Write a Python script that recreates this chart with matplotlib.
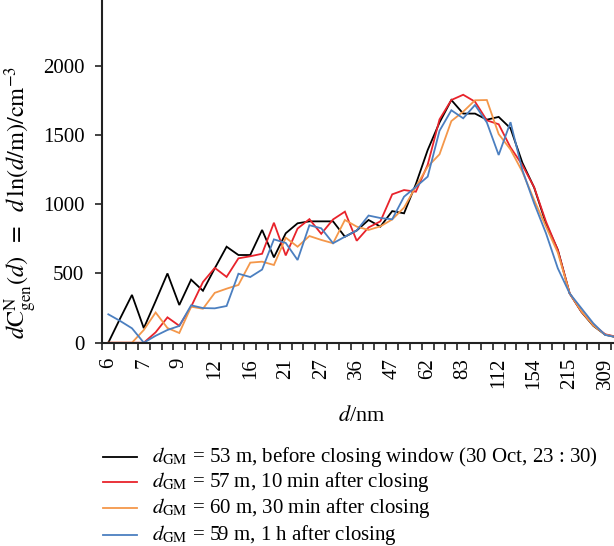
import numpy as np
import matplotlib
matplotlib.use("Agg")
import matplotlib.pyplot as plt
from matplotlib.lines import Line2D

plt.rcParams['font.family'] = ['Liberation Serif', 'DejaVu Serif']
plt.rcParams['mathtext.fontset'] = 'stix'

# size bins (every third bin labelled)
size_labels = ["6", "7", "9", "12", "16", "21", "27", "36", "47", "62", "83", "112", "154", "215", "309"]

black = [0, 175, 345, 105, 300, 500, 272, 455, 375, 537, 693, 633, 633, 814, 616, 790, 862, 876, 876, 876,
         765, 810, 886, 838, 950, 934, 1145, 1391, 1590, 1752, 1654, 1654, 1610, 1630, 1548, 1300, 1120, 860,
         670, 356, 222, 122, 58, 38]
red = [0, 0, 0, 0, 75, 183, 122, 260, 438, 540, 475, 609, 624, 642, 866, 630, 824, 892, 786, 890,
       946, 736, 832, 876, 1071, 1102, 1090, 1285, 1612, 1752, 1790, 1740, 1605, 1577, 1410, 1283, 1122, 874,
       669, 356, 224, 128, 61, 42]
orange = [0, 0, 0, 92, 218, 106, 70, 260, 245, 360, 390, 417, 578, 585, 561, 758, 693, 770, 742, 718,
          886, 838, 814, 840, 890, 975, 1126, 1271, 1360, 1600, 1668, 1750, 1752, 1506, 1395, 1235, 1030, 838,
          650, 356, 226, 125, 58, 40]
blue = [205, 157, 104, 0, 50, 92, 121, 270, 250, 248, 265, 498, 474, 528, 746, 720, 597, 848, 826, 718,
        765, 810, 918, 900, 891, 1054, 1125, 1199, 1530, 1678, 1620, 1716, 1590, 1355, 1592, 1247, 1006, 790,
        537, 356, 248, 140, 56, 39]

labels = [
    r"$d_{\mathrm{GM}}$ = 53 m, before closing window (30 Oct, 23 : 30)",
    r"$d_{\mathrm{GM}}$ = 57 m, 10 min after closing",
    r"$d_{\mathrm{GM}}$ = 60 m, 30 min after closing",
    r"$d_{\mathrm{GM}}$ = 59 m, 1 h after closing",
]
colors = ["#000000", "#e8232b", "#f4974a", "#4b7fc0"]
series = [black, red, orange, blue]

W, H = 614, 546
fig = plt.figure(figsize=(W / 100, H / 100), dpi=100)
x0, x1 = 102.4, 614.0
y_bottom, y_top = 342.7, 0.0
ax = fig.add_axes([x0 / W, (H - y_bottom) / H, (x1 - x0) / W, (y_bottom - y_top) / H])

n = len(black)
idx = np.arange(n)
for s, c in zip(series, colors):
    ax.plot(idx, s, color=c, lw=1.3, solid_joinstyle='miter', clip_on=True)

ax.set_xlim(-0.5, 42.75)
ax.set_ylim(0, 2474)
ax.set_yticks([0, 500, 1000, 1500, 2000])
ax.tick_params(axis='y', direction='out', length=5, width=1.2, labelsize=15, pad=8, colors='#222222')
ax.set_yticklabels(["0", "500", "1000", "1500", "2000"], color='black')

ax.set_xticks(np.arange(0, 3 * len(size_labels), 3))
ax.set_xticklabels(size_labels, rotation=90, fontsize=15)
ax.set_xticks(np.arange(-0.5, 43, 1), minor=True)
ax.tick_params(axis='x', which='major', length=0, pad=11)
ax.tick_params(axis='x', which='minor', direction='out', length=5, width=1.2, colors='#222222')

for sp in ['top', 'right']:
    ax.spines[sp].set_visible(False)
for sp in ['left', 'bottom']:
    ax.spines[sp].set_linewidth(1.5)
    ax.spines[sp].set_color('#222222')

ax.set_ylabel(r"$d\mathrm{C}^{\mathrm{N}}_{\mathrm{gen}}(d)\;\ =\ \;d\,\ln(d/\mathrm{m})/\mathrm{cm}^{-3}$", fontsize=17.5)
ax.yaxis.set_label_coords((39 - x0) / (x1 - x0), (y_bottom - 202) / y_bottom)

fig.text(362 / W, 1 - 416 / H, r"$d$/nm", fontsize=16, ha='center', va='center')

rows = [457, 482, 508, 535]
for lab, c, yy in zip(labels, colors, rows):
    fig.add_artist(Line2D([103 / W, 137 / W], [1 - yy / H, 1 - yy / H], color=c, lw=1.3))
    fig.text(152 / W, 1 - yy / H, lab, fontsize=15, ha='left', va='center')

fig.savefig("out.png", dpi=100)
